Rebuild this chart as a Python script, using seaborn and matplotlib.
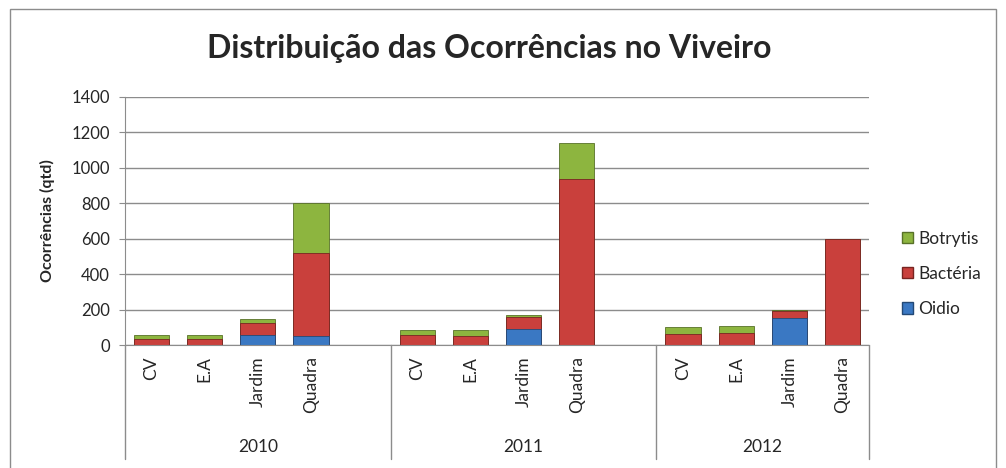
import numpy as np
import pandas as pd
import matplotlib.pyplot as plt
import matplotlib.transforms as mtransforms
from matplotlib.patches import Rectangle, Patch
from matplotlib.lines import Line2D
import seaborn as sns

# dados
anos = ["2010", "2011", "2012"]
locais = ["CV", "E.A", "Jardim", "Quadra"]
oidio = [0, 0, 55, 50,
         0, 0, 88, 0,
         0, 0, 150, 0]
bacteria = [35, 35, 70, 470,
            55, 50, 72, 934,
            62, 65, 40, 595]
botrytis = [22, 22, 20, 278,
            30, 33, 10, 207,
            38, 40, 10, 5]

cor_oidio = "#3A78C3"
cor_bacteria = "#C9403C"
cor_botrytis = "#8DB53F"

# montar tabela (com posições vazias entre os anos, como no Excel)
linhas = []
ordem = []
rotulos = []
i = 0
for a, ano in enumerate(anos):
    for loc in locais:
        chave = ano + "-" + loc
        linhas.append({"chave": chave, "Oidio": oidio[i], "Bactéria": bacteria[i], "Botrytis": botrytis[i]})
        ordem.append(chave)
        rotulos.append(loc)
        i += 1
    if a < len(anos) - 1:
        ordem.append("vazio" + str(a))
        rotulos.append("")
df = pd.DataFrame(linhas)
df["c_oidio"] = df["Oidio"]
df["c_bact"] = df["Oidio"] + df["Bactéria"]
df["c_total"] = df["c_bact"] + df["Botrytis"]

sns.set_style("white")
plt.rcParams["font.family"] = ["Lato", "DejaVu Sans"]

fig = plt.figure(figsize=(10.06, 4.68), dpi=100)
ax = fig.add_axes([0.1243, 0.2628, 0.7395, 0.5306])

largura = 0.66
for col, cor in [("c_total", cor_botrytis), ("c_bact", cor_bacteria), ("c_oidio", cor_oidio)]:
    sns.barplot(data=df, x="chave", y=col, order=ordem, color=cor, saturation=1,
                width=largura, errorbar=None, ax=ax,
                edgecolor=sns.utils.set_hls_values(cor, l=0.3), linewidth=0.6)

ax.set_ylim(0, 1400)
ax.set_yticks(range(0, 1401, 200))
ax.set_xlim(-0.5, len(ordem) - 0.5)
ax.yaxis.grid(True, color="#8C8C8C", linewidth=1)
ax.set_axisbelow(True)
for s in ["top", "right"]:
    ax.spines[s].set_visible(False)
for s in ["left", "bottom"]:
    ax.spines[s].set_color("#8C8C8C")
ax.tick_params(axis="y", labelsize=12, length=4, color="#8C8C8C", left=True, pad=7)
ax.set_xticks(range(len(ordem)))
ax.set_xticklabels(rotulos, rotation=90, fontsize=12.5)
ax.tick_params(axis="x", length=0, pad=8)
ax.set_xlabel("")
ax.set_ylabel("Ocorrências (qtd)", fontsize=11.5, fontweight="bold", labelpad=12)

# rótulos dos anos e separadores
trans = mtransforms.blended_transform_factory(ax.transData, ax.transAxes)
limites = [-0.5, 4.5, 9.5, 13.5]
for k, ano in enumerate(anos):
    centro = (limites[k] + limites[k + 1]) / 2
    ax.text(centro, -0.41, ano, transform=trans, ha="center", va="center", fontsize=12.5)
for x in limites:
    ax.add_line(Line2D([x, x], [0, -0.46], transform=trans, color="#8C8C8C",
                       linewidth=1, clip_on=False))

# legenda
handles = [Patch(facecolor=cor_botrytis, edgecolor=sns.utils.set_hls_values(cor_botrytis, l=0.3)),
           Patch(facecolor=cor_bacteria, edgecolor=sns.utils.set_hls_values(cor_bacteria, l=0.3)),
           Patch(facecolor=cor_oidio, edgecolor=sns.utils.set_hls_values(cor_oidio, l=0.3))]
fig.legend(handles, ["Botrytis", "Bactéria", "Oidio"], loc="center left",
           bbox_to_anchor=(0.881, 0.415), frameon=False, fontsize=12.5,
           handlelength=0.65, handleheight=0.65, handletextpad=0.3, labelspacing=1.1)

fig.text(0.486, 0.897, "Distribuição das Ocorrências no Viveiro", ha="center", va="center",
         fontsize=23, fontweight="bold")

# borda da área do gráfico
fig.patches.append(Rectangle((0.01, -0.05), 0.98, 1.03, transform=fig.transFigure,
                             fill=False, edgecolor="#8C8C8C", linewidth=1))

fig.savefig("out.png", dpi=100)
